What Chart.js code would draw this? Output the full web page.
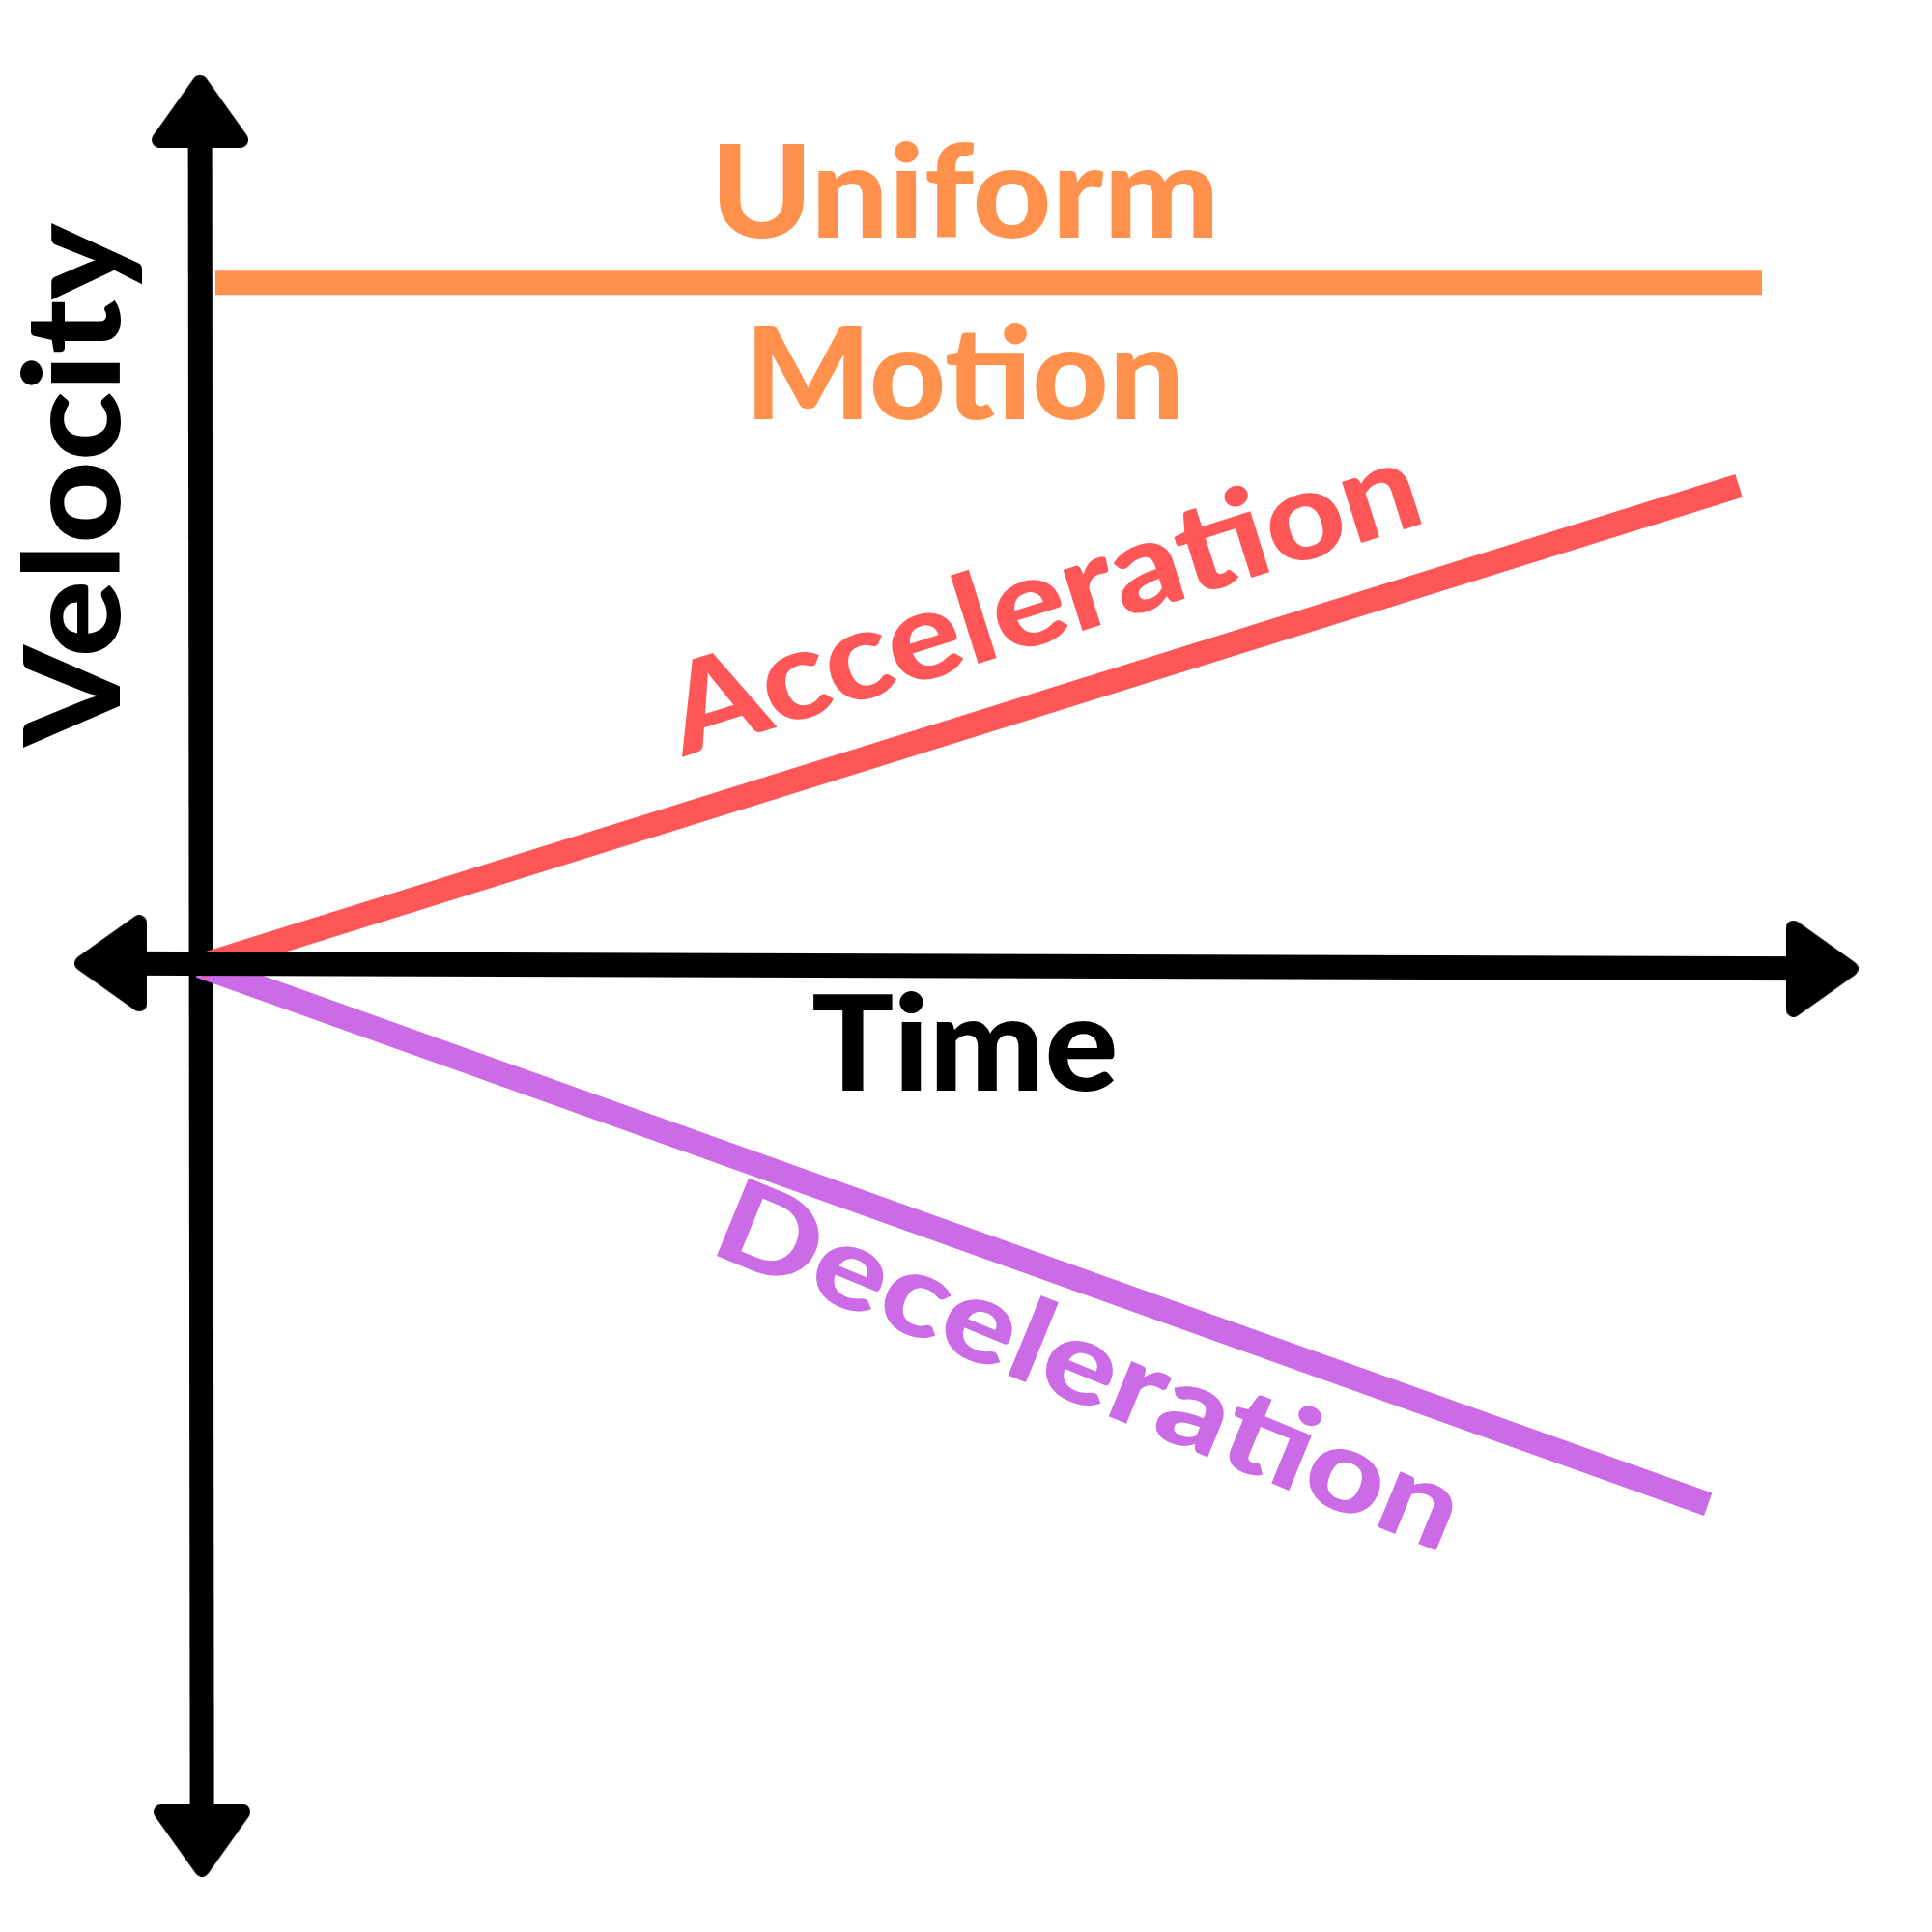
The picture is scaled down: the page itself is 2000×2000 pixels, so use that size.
<!DOCTYPE html>
<html>
<head>
<meta charset="utf-8">
<style>
  html, body { margin: 0; padding: 0; background: #ffffff; }
  #wrap { width: 2000px; height: 2000px; }
</style>
<script src="https://cdn.jsdelivr.net/npm/chart.js@4/dist/chart.umd.min.js"></script>
</head>
<body>
<div id="wrap"><canvas id="c" width="2000" height="2000"></canvas></div>
<script>
// ---- data (time units, velocity units) ----
const uniformTime = [0.1, 10.15];
const uniformVel  = [10, 10];
const accelTime   = [0, 10];
const accelVel    = [0, 7.03];
const decelTime   = [0, 9.8];
const decelVel    = [0, -7.88];
// axes (with arrow heads at both ends)
const timeAxisTime = [-0.58, 10.54];
const timeAxisVel  = [0.04, -0.04];
const velAxisTime  = [0, 0.013];
const velAxisVel   = [12.51, -12.8];
// labels
const labelUniform = ['Uniform', 'Motion'];
const labelAccel = 'Acceleration';
const labelDecel = 'Deceleration';
const labelX = 'Time';
const labelY = 'Velocity';

const ORANGE = '#FF914D', RED = '#FF5757', PURPLE = '#CB6CE6', BLACK = '#000000';

function pts(xs, ys) { return xs.map((x, i) => ({ x: x, y: ys[i] })); }

// rounded arrow head image (pointing up); the rounded shape fills w x h
function makeArrow(w, h, r) {
  const c = document.createElement('canvas');
  c.width = w; c.height = h;
  const g = c.getContext('2d');
  g.fillStyle = BLACK; g.strokeStyle = BLACK;
  g.lineWidth = 2 * r; g.lineJoin = 'round';
  g.beginPath();
  g.moveTo(r, h - r); g.lineTo(w / 2, r); g.lineTo(w - r, h - r);
  g.closePath(); g.fill(); g.stroke();
  return c;
}
const arrowImg = makeArrow(100, 75, 8);

function drawLabel(ctx, text, x, y, angle, capH, width, color) {
  const size = capH / 0.7165;
  ctx.save();
  ctx.translate(x, y);
  ctx.rotate(angle * Math.PI / 180);
  ctx.font = '900 ' + size + 'px Lato, "Open Sans", sans-serif';
  ctx.textAlign = 'left';
  ctx.textBaseline = 'alphabetic';
  const m = ctx.measureText(text);
  const ink = (m.actualBoundingBoxRight + m.actualBoundingBoxLeft) || m.width;
  ctx.scale(width / ink, 1);
  ctx.fillStyle = color;
  ctx.fillText(text, m.actualBoundingBoxLeft || 0, 0);
  ctx.restore();
}

const labelsPlugin = {
  id: 'labels',
  afterDatasetsDraw(chart) {
    const ctx = chart.ctx;
    drawLabel(ctx, labelUniform[0], 744, 246, 0, 96, 512, ORANGE);
    drawLabel(ctx, labelUniform[1], 781, 434, 0, 96, 438, ORANGE);
    drawLabel(ctx, labelX, 842, 1129, 0, 98, 312, BLACK);
    drawLabel(ctx, labelY, 124, 775, -90, 98, 545, BLACK);
    drawLabel(ctx, labelAccel, 705, 784, -17.5, 92, 805, RED);
    drawLabel(ctx, labelDecel, 742, 1300, 22.3, 86, 805, PURPLE);
  }
};

const lineDs = (data, color, order) => ({
  data: data, borderColor: color, backgroundColor: color, borderWidth: 25,
  borderCapStyle: 'butt', pointRadius: 0, tension: 0, order: order, fill: false
});

new Chart(document.getElementById('c'), {
  type: 'line',
  data: {
    datasets: [
      Object.assign(lineDs(pts(timeAxisTime, timeAxisVel), BLACK, 0), {
        pointRadius: 40, pointStyle: arrowImg, pointRotation: [270, 90]
      }),
      lineDs(pts(uniformTime, uniformVel), ORANGE, 1),
      lineDs(pts(accelTime, accelVel), RED, 2),
      lineDs(pts(decelTime, decelVel), PURPLE, 3),
      Object.assign(lineDs(pts(velAxisTime, velAxisVel), BLACK, 10), {
        pointRadius: 40, pointStyle: arrowImg, pointRotation: [0, 180]
      })
    ]
  },
  options: {
    responsive: false,
    animation: false,
    events: [],
    layout: { padding: 0, autoPadding: false },
    plugins: { legend: { display: false }, tooltip: { enabled: false } },
    scales: {
      x: { type: 'linear', min: -1.3, max: 11.255, display: false },
      y: { type: 'linear', min: -14.14, max: 14.14, display: false }
    }
  },
  plugins: [labelsPlugin]
});
</script>
</body>
</html>
